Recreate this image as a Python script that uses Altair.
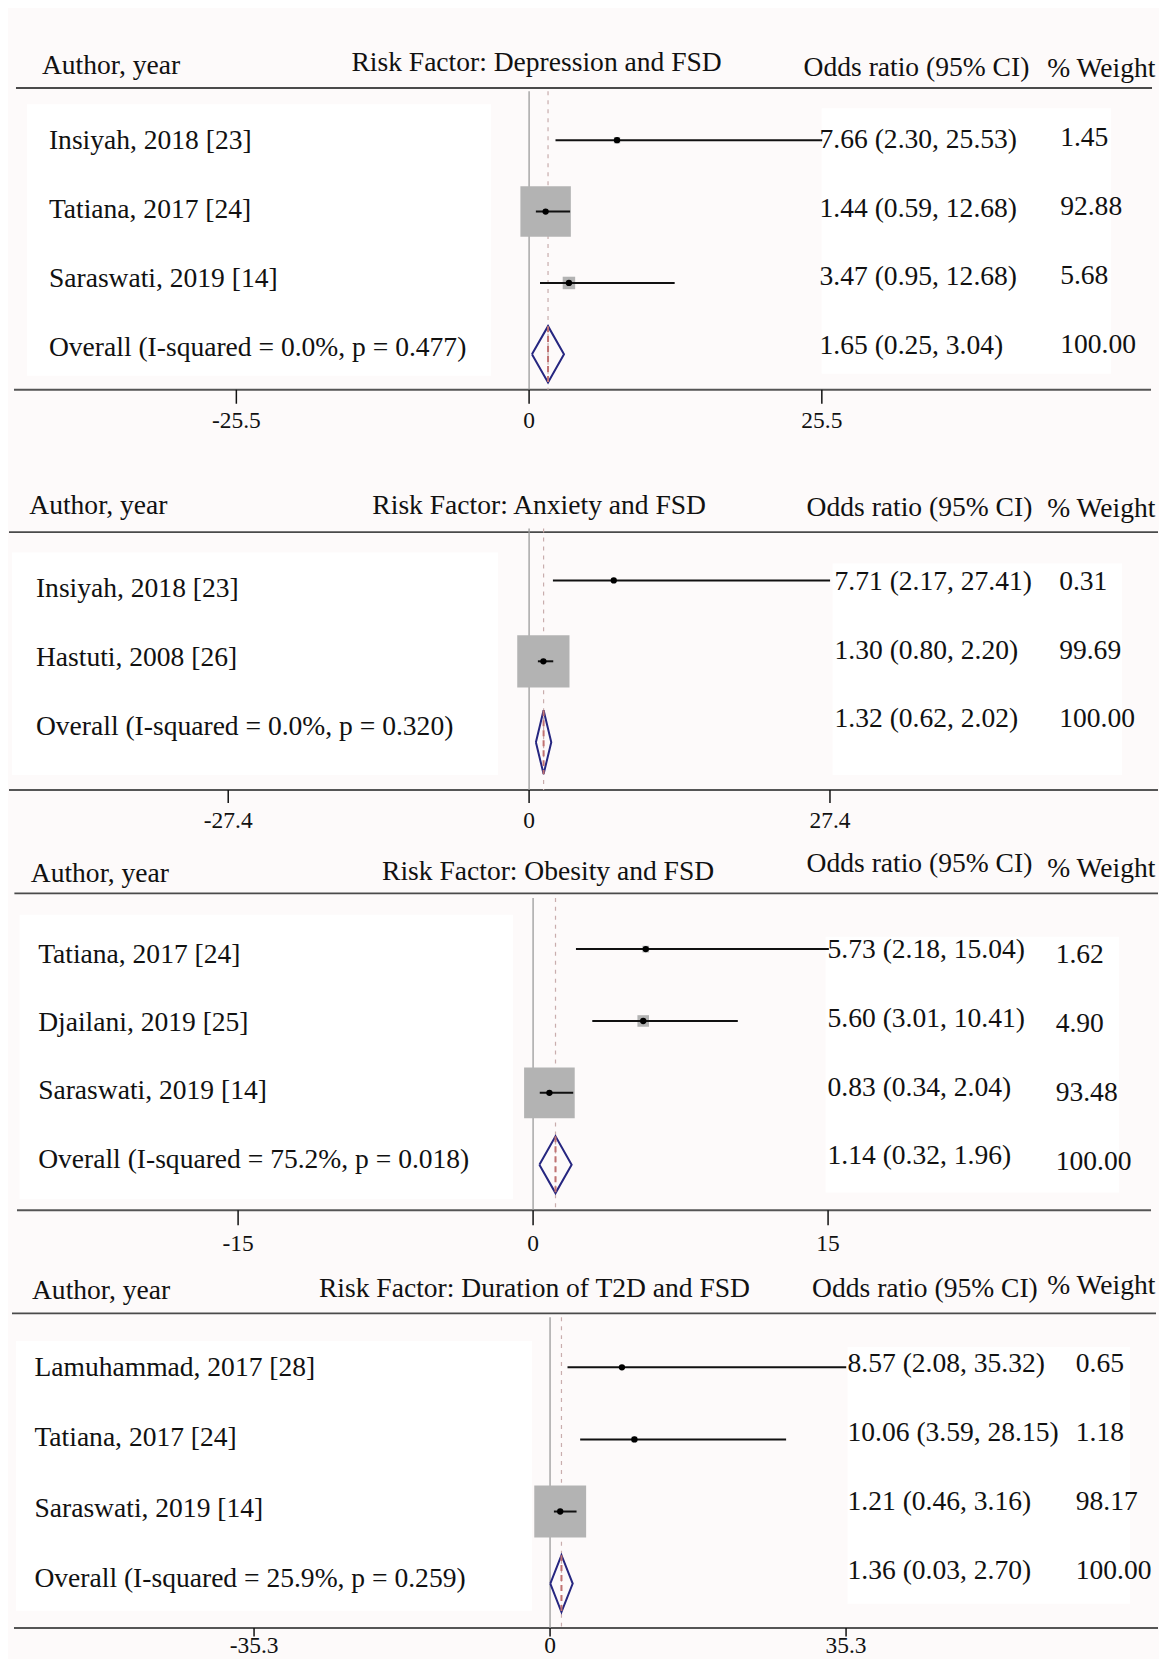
import altair as alt
import pandas as pd

FONT = "Liberation Serif"

# ---------------- data ----------------
titles = ["Risk Factor: Depression and FSD", "Risk Factor: Anxiety and FSD",
          "Risk Factor: Obesity and FSD", "Risk Factor: Duration of T2D and FSD"]
head_author = "Author, year"
head_or = "Odds ratio (95% CI)"
head_w = "% Weight"

studies = [
    ["Insiyah, 2018 [23]", "Tatiana, 2017 [24]", "Saraswati, 2019 [14]"],
    ["Insiyah, 2018 [23]", "Hastuti, 2008 [26]"],
    ["Tatiana, 2017 [24]", "Djailani, 2019 [25]", "Saraswati, 2019 [14]"],
    ["Lamuhammad, 2017 [28]", "Tatiana, 2017 [24]", "Saraswati, 2019 [14]"],
]
est = [[7.66, 1.44, 3.47], [7.71, 1.30], [5.73, 5.60, 0.83], [8.57, 10.06, 1.21]]
lo = [[2.30, 0.59, 0.95], [2.17, 0.80], [2.18, 3.01, 0.34], [2.08, 3.59, 0.46]]
hi = [[25.53, 3.57, 12.68], [27.41, 2.20], [15.04, 10.41, 2.04], [35.32, 28.15, 3.16]]  # as drawn
ci_text = [
    ["7.66 (2.30, 25.53)", "1.44 (0.59, 12.68)", "3.47 (0.95, 12.68)"],
    ["7.71 (2.17, 27.41)", "1.30 (0.80, 2.20)"],
    ["5.73 (2.18, 15.04)", "5.60 (3.01, 10.41)", "0.83 (0.34, 2.04)"],
    ["8.57 (2.08, 35.32)", "10.06 (3.59, 28.15)", "1.21 (0.46, 3.16)"],
]
weights = [[1.45, 92.88, 5.68], [0.31, 99.69], [1.62, 4.90, 93.48], [0.65, 1.18, 98.17]]
overall_label = ["Overall (I-squared = 0.0%, p = 0.477)", "Overall (I-squared = 0.0%, p = 0.320)",
                 "Overall (I-squared = 75.2%, p = 0.018)", "Overall (I-squared = 25.9%, p = 0.259)"]
overall_est = [1.65, 1.32, 1.14, 1.36]
overall_lo = [0.25, 0.62, 0.32, 0.03]
overall_hi = [3.04, 2.02, 1.96, 2.70]
overall_text = ["1.65 (0.25, 3.04)", "1.32 (0.62, 2.02)", "1.14 (0.32, 1.96)", "1.36 (0.03, 2.70)"]
overall_weight = [100.00, 100.00, 100.00, 100.00]
tick_values = [[-25.5, 0, 25.5], [-27.4, 0, 27.4], [-15, 0, 15], [-35.3, 0, 35.3]]
tick_labels = [["-25.5", "0", "25.5"], ["-27.4", "0", "27.4"], ["-15", "0", "15"], ["-35.3", "0", "35.3"]]

# ---------------- layout (page pixels) ----------------
LAYOUT = [
    dict(top=8, H=447, zero=529, k=11.5,
         hy=dict(author=72.5, title=70, orh=74.5, wh=76),
         hx=dict(author=41, title=351, orh=804, wh=1048),
         hline=(15, 1153, 86.7), aline=(13, 1152, 389), zl_top=90,
         tick=(389, 403), tlab=427,
         lab=(148.3, 68.9), orr=(146.7, 68.9), wr=(145, 68.9), mk=(139, 71.5),
         lx=48, orx=820, wx=1061,
         white=[(26, 103, 491, 375), (822, 107, 1112, 373)]),
    dict(top=455, H=385, zero=529, k=11.0,
         hy=dict(author=513, title=513.3, orh=515, wh=516.7),
         hx=dict(author=28.3, title=372, orh=807, wh=1048),
         hline=(8, 1159, 531.7), aline=(8, 1159, 790), zl_top=528,
         tick=(790, 803), tlab=828,
         lab=(596.7, 69.2), orr=(590, 68.3), wr=(590, 68.3), mk=(580, 81),
         lx=35, orx=835, wx=1060,
         white=[(11, 552, 498, 775), (833, 563, 1123, 775)]),
    dict(top=840, H=422, zero=533, k=19.7,
         hy=dict(author=881.7, title=880, orh=871.7, wh=876.7),
         hx=dict(author=29.8, title=381.7, orh=807, wh=1048),
         hline=(13.4, 1159, 893.5), aline=(16, 1152, 1211), zl_top=898,
         tick=(1211, 1226), tlab=1251.5,
         lab=(963.3, 68.3), orr=(958.3, 68.9), wr=(963.3, 69), mk=(949.3, 72),
         lx=37.2, orx=828, wx=1056.5,
         white=[(18.6, 915, 513, 1200), (826, 937, 1120, 1193)]),
    dict(top=1262, H=395, zero=550, k=8.4,
         hy=dict(author=1300, title=1298.3, orh=1298.3, wh=1295),
         hx=dict(author=31, title=318.5, orh=812.5, wh=1048),
         hline=(11, 1157, 1314.3), aline=(13, 1159, 1629.3), zl_top=1318,
         tick=(1629.3, 1638), tlab=1654,
         lab=(1376.7, 70.5), orr=(1373.3, 69), wr=(1373.3, 69), mk=(1368.3, 72.2),
         lx=33.5, orx=848, wx=1076.6,
         white=[(15, 1342, 532, 1612), (848, 1348, 1131, 1605)]),
]

X0 = 8
W = 1151
DIA_H = 0.395
TXT = dict(font=FONT, fontSize=27.6, color="#111111", baseline="alphabetic", align="left")


def panel(i):
    c = LAYOUT[i]
    top, H, k = c["top"], c["H"], c["k"]
    z = c["zero"] - X0
    xs = alt.Scale(domain=[-z / k, (W - z) / k], nice=False, zero=False)

    def ysc(spec):
        t, step = spec
        d0 = 1 - (t - top) / step
        return alt.Scale(domain=[d0, d0 + H / step], reverse=True, nice=False, zero=False)

    def px(x):
        return min(max(x - X0, 0), W)

    def py(y):
        return y - top

    dummy = alt.Chart(pd.DataFrame({"a": [0]}))
    n = len(studies[i])
    df = pd.DataFrame({"row": list(range(1, n + 1)), "est": est[i], "lo": lo[i],
                       "hi": hi[i], "w": weights[i]})
    orow = n + 1
    txt = pd.DataFrame({
        "row": list(range(1, n + 2)),
        "label": studies[i] + [overall_label[i]],
        "ci": ci_text[i] + [overall_text[i]],
        "wtxt": [f"{v:.2f}" for v in weights[i] + [overall_weight[i]]],
    })
    dia = pd.DataFrame({
        "x": [overall_lo[i], overall_est[i], overall_hi[i], overall_est[i], overall_lo[i]],
        "y": [orow, orow - DIA_H, orow, orow + DIA_H, orow],
        "o": [0, 1, 2, 3, 4],
    })
    ov = pd.DataFrame({"x": [overall_est[i]], "y1": [orow - DIA_H], "y2": [orow + DIA_H]})
    ticks = pd.DataFrame({"t": tick_values[i], "lab": tick_labels[i]})

    ymk = ysc(c["mk"])
    X = lambda f: alt.X(f, scale=xs, axis=None)

    layers = []
    for (x1, y1, x2, y2) in c["white"]:
        layers.append(dummy.mark_rect(color="white").encode(
            x=alt.value(px(x1)), x2=alt.value(px(x2)), y=alt.value(py(y1)), y2=alt.value(py(y2))))
    hl = c["hline"]
    layers.append(dummy.mark_rule(color="#4a4a4a", strokeWidth=1.8).encode(
        x=alt.value(px(hl[0])), x2=alt.value(px(hl[1])), y=alt.value(py(hl[2]))))
    al = c["aline"]
    layers.append(dummy.mark_rule(color="#555555", strokeWidth=2).encode(
        x=alt.value(px(al[0])), x2=alt.value(px(al[1])), y=alt.value(py(al[2]))))
    # zero line
    layers.append(alt.Chart(pd.DataFrame({"v": [0]})).mark_rule(color="#9a9a9a", strokeWidth=1.3).encode(
        x=X("v:Q"), y=alt.value(py(c["zl_top"])), y2=alt.value(py(al[2]))))
    # overall dashed line
    layers.append(alt.Chart(ov).mark_rule(color="#c9adad", strokeWidth=1.2, strokeDash=[4, 5]).encode(
        x=X("x:Q"), y=alt.value(py(c["zl_top"])), y2=alt.value(py(al[2]))))
    # ticks
    layers.append(alt.Chart(ticks).mark_rule(color="#111111", strokeWidth=1.5).encode(
        x=X("t:Q"), y=alt.value(py(c["tick"][0])), y2=alt.value(py(c["tick"][1]))))
    layers.append(alt.Chart(ticks).mark_text(font=FONT, fontSize=23.5, color="#111111",
                                             baseline="alphabetic", align="center").encode(
        x=X("t:Q"), y=alt.value(py(c["tlab"])), text="lab:N"))
    # weight boxes
    layers.append(alt.Chart(df).mark_square(color="#b3b3b3", opacity=1).encode(
        x=X("est:Q"), y=alt.Y("row:Q", scale=ymk, axis=None),
        size=alt.Size("w:Q", scale=alt.Scale(domain=[0, 100], range=[0, 2750]), legend=None)))
    # CI lines
    layers.append(alt.Chart(df).mark_rule(color="#111111", strokeWidth=2).encode(
        x=X("lo:Q"), x2="hi:Q", y=alt.Y("row:Q", scale=ymk, axis=None)))
    # point estimates
    layers.append(alt.Chart(df).mark_circle(color="#000000", size=40, opacity=1).encode(
        x=X("est:Q"), y=alt.Y("row:Q", scale=ymk, axis=None)))
    # diamond
    layers.append(alt.Chart(dia).mark_line(color="#262680", strokeWidth=2).encode(
        x=X("x:Q"), y=alt.Y("y:Q", scale=ymk, axis=None), order="o:Q"))
    layers.append(alt.Chart(ov).mark_rule(color="#c07272", strokeWidth=2, strokeDash=[6, 4]).encode(
        x=X("x:Q"), y=alt.Y("y1:Q", scale=ymk, axis=None), y2="y2:Q"))
    # text columns
    layers.append(alt.Chart(txt).mark_text(**TXT).encode(
        x=alt.value(px(c["lx"])), y=alt.Y("row:Q", scale=ysc(c["lab"]), axis=None), text="label:N"))
    layers.append(alt.Chart(txt).mark_text(**TXT).encode(
        x=alt.value(px(c["orx"])), y=alt.Y("row:Q", scale=ysc(c["orr"]), axis=None), text="ci:N"))
    layers.append(alt.Chart(txt).mark_text(**TXT).encode(
        x=alt.value(px(c["wx"])), y=alt.Y("row:Q", scale=ysc(c["wr"]), axis=None), text="wtxt:N"))
    # headers
    for key, s in (("author", head_author), ("title", titles[i]), ("orh", head_or), ("wh", head_w)):
        layers.append(dummy.mark_text(text=s, **TXT).encode(
            x=alt.value(px(c["hx"][key])), y=alt.value(py(c["hy"][key]))))

    return alt.layer(*layers).resolve_scale(y="independent").properties(width=W, height=H)


chart = alt.vconcat(*[panel(i) for i in range(4)], spacing=0, bounds="flush").properties(
    padding={"left": 0, "top": 0, "right": 0, "bottom": 0},
    background="#fdfafa",
).configure_view(stroke=None)

chart.save("out.html", embed_options={"renderer": "svg", "actions": False})
